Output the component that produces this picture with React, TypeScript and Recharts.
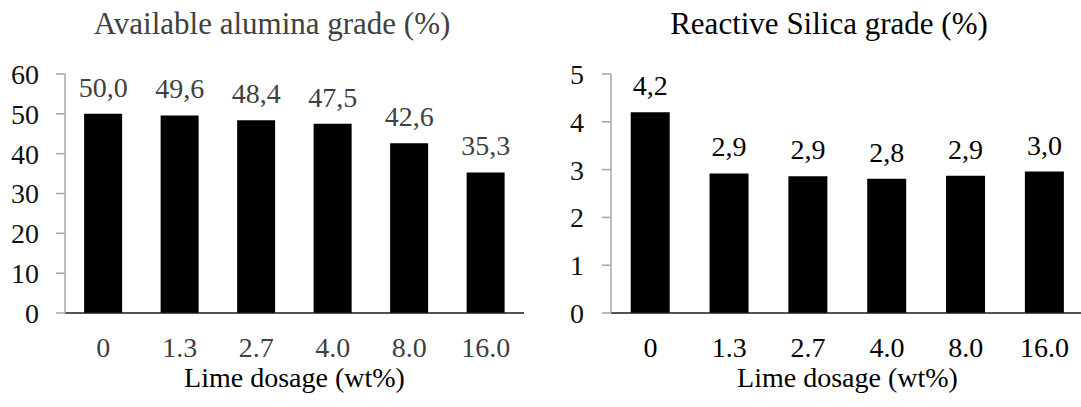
import { BarChart, Bar, XAxis, YAxis, LabelList, Label } from "recharts"

const FONT = "'Liberation Serif', 'Times New Roman', serif"

const doses = ["0", "1.3", "2.7", "4.0", "8.0", "16.0"]
const aluminaGrade = [50.0, 49.6, 48.4, 47.5, 42.6, 35.3]
const silicaGrade = [4.2, 2.92, 2.86, 2.81, 2.87, 2.96]
const aluminaTicks = [0, 10, 20, 30, 40, 50, 60]
const silicaTicks = [0, 1, 2, 3, 4, 5]

const aluminaData = doses.map((dose, i) => ({ dose, value: aluminaGrade[i] }))
const silicaData = doses.map((dose, i) => ({ dose, value: silicaGrade[i] }))

const fmt = (v: any) => Number(v).toFixed(1).replace(".", ",")

interface PanelProps {
  data: { dose: string; value: number }[]
  ticks: number[]
  width: number
  yWidth: number
  yMargin: number
  textColor: string
}

function Panel({ data, ticks, width, yWidth, yMargin, textColor }: PanelProps) {
  return (
    <BarChart
      width={width}
      height={407}
      data={data}
      margin={{ top: 74, right: 16, left: 0, bottom: 0 }}
      barCategoryGap="25%"
      style={{ fontFamily: FONT }}
    >
      <XAxis
        dataKey="dose"
        height={94}
        interval={0}
        tickLine={false}
        tickMargin={18}
        axisLine={{ stroke: "#1a1a1a", strokeWidth: 1.5 }}
        tick={{ fontSize: 28, fill: textColor, fontFamily: FONT }}
      >
        <Label
          value="Lime dosage (wt%)"
          position="insideBottom"
          offset={20}
          style={{ fontSize: 28, fill: "#000", fontFamily: FONT }}
        />
      </XAxis>
      <YAxis
        width={yWidth}
        domain={[ticks[0], ticks[ticks.length - 1]]}
        ticks={ticks}
        interval={0}
        tickSize={9}
        tickMargin={yMargin}
        axisLine={{ stroke: "#a6a6a6", strokeWidth: 1.5 }}
        tickLine={{ stroke: "#a6a6a6", strokeWidth: 1.5 }}
        tick={{ fontSize: 28, fill: "#111", fontFamily: FONT }}
      />
      <Bar dataKey="value" fill="#000" isAnimationActive={false}>
        <LabelList
          dataKey="value"
          position="top"
          offset={17}
          formatter={fmt}
          style={{ fontSize: 28, fill: textColor, fontFamily: FONT }}
        />
      </Bar>
    </BarChart>
  )
}

export default function App() {
  return (
    <div style={{ position: "absolute", left: 0, top: 0, width: 1081, height: 407, overflow: "hidden", background: "#fff" }}>
      <div style={{ position: "absolute", left: 0, top: 0 }}>
        <Panel data={aluminaData} ticks={aluminaTicks} width={540} yWidth={65} yMargin={17} textColor="#404040" />
      </div>
      <div style={{ position: "absolute", left: 540, top: 0 }}>
        <Panel data={silicaData} ticks={silicaTicks} width={560} yWidth={71} yMargin={18} textColor="#000" />
      </div>
      <svg width={1081} height={50} style={{ position: "absolute", left: 0, top: 0 }}>
        <text x={272} y={34} textAnchor="middle" fontSize={31} fill="#404040" fontFamily={FONT}>
          Available alumina grade (%)
        </text>
        <text x={829} y={34} textAnchor="middle" fontSize={31} fill="#000" fontFamily={FONT}>
          Reactive Silica grade (%)
        </text>
      </svg>
    </div>
  )
}
